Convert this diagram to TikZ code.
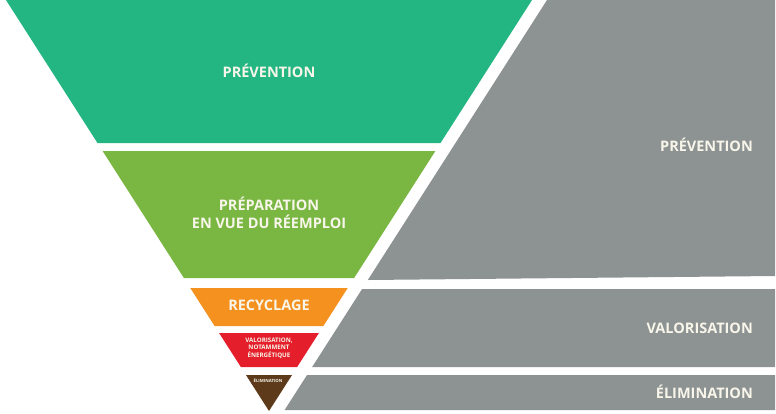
\documentclass[tikz,border=0pt]{standalone}
\usepackage{fontspec}
\setmainfont{Open Sans}
\usepackage{tikz}
\usetikzlibrary{calc}
\definecolor{prevgreen}{HTML}{23B682}
\definecolor{prepgreen}{HTML}{7AB642}
\definecolor{recyorange}{HTML}{F5921F}
\definecolor{valored}{HTML}{E41F2B}
\definecolor{elimbrown}{HTML}{5C3A1A}
\definecolor{sidegrey}{HTML}{8D9292}
\definecolor{labelwhite}{HTML}{F8F6EA}
% one slice of the funnel, from y=#2 down to y=#3
\def\band#1#2#3{\fill[#1] ({269-0.64*(411-#2)},#2) -- ({269+0.64*(411-#2)},#2) -- ({269+0.64*(411-#3)},#3) -- ({269-0.64*(411-#3)},#3) -- cycle;}
% grey panel to the right of the funnel, bottom edge from y=#2 (left) to y=#3 (right)
\def\sideband#1#2#3{\fill[sidegrey] ({284+0.64*(411-#1)},#1) -- (775,#1) -- (775,#3) -- ({284+0.64*(411-#2)},#2) -- cycle;}
\tikzset{
  biglabel/.style={text=labelwhite, font=\fontsize{14.5}{18}\selectfont\bfseries, align=center, inner sep=0pt},
  sidelabel/.style={biglabel, anchor=east},
  tinylabel/.style={text=labelwhite, font=\fontsize{6.2}{7.6}\selectfont\bfseries, align=center, inner sep=0pt}
}
\begin{document}
\begin{tikzpicture}[x=1pt, y=-1pt]
		%%%%% START %%%%%
		\useasboundingbox (0, 0) rectangle (776, 413);
		
		\band{prevgreen}{0}{143}
		\band{prepgreen}{151}{278}
		\band{recyorange}{288}{326}
		\band{valored}{333}{367}
		\band{elimbrown}{375}{411}
		
		\sideband{0}{280}{276}
		\sideband{289}{367}{367}
		\sideband{375}{410}{410}
		
		\node[biglabel] (prev) at (269, 71) {PRÉVENTION};
		\node[biglabel] (prep) at (269, 213) {PRÉPARATION\\EN VUE DU RÉEMPLOI};
		\node[biglabel] (recy) at (269, 305) {RECYCLAGE};
		\node[tinylabel] (valo) at (269, 348) {VALORISATION,\\NOTAMMENT\\ÉNERGÉTIQUE};
		\node[tinylabel, font=\fontsize{4.3}{5}\selectfont\bfseries] (elim) at (268, 381) {ÉLIMINATION};
		
		\node[sidelabel] (sideprev) at (753, 145) {PRÉVENTION};
		\node[sidelabel] (sidevalo) at (753, 328) {VALORISATION};
		\node[sidelabel] (sideelim) at (753, 392) {ÉLIMINATION};
		%%%%% END %%%%%
\end{tikzpicture}
\end{document}
